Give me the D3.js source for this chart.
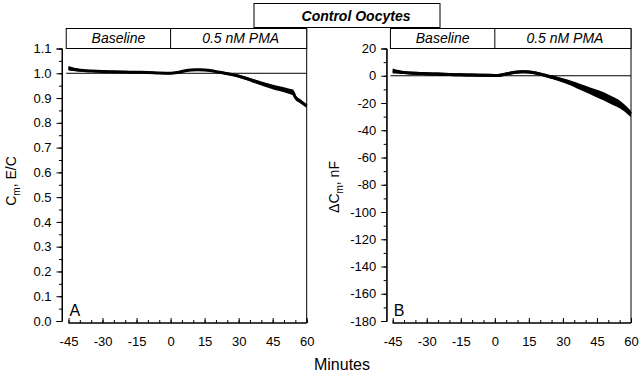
<!DOCTYPE html>
<html><head><meta charset="utf-8">
<script src="https://cdn.jsdelivr.net/npm/d3@7"></script>
<style>
html,body{margin:0;padding:0;background:#fff;}
svg{display:block;font-family:"Liberation Sans",Arial,sans-serif;}
</style></head>
<body><svg id="chart" width="640" height="376"></svg>
<script>
// ---- data ----
const time   = [-45,-43,-40,-35,-30,-25,-20,-15,-10,-5,0,3,6,9,12,15,18,21,24,28,32,36,40,44,48,52,54,55,57,60];
const cmMean = [1.020,1.016,1.012,1.009,1.007,1.006,1.005,1.004,1.003,1.001,1.000,1.003,1.009,1.013,1.014,1.013,1.010,1.005,1.000,0.993,0.983,0.971,0.959,0.948,0.938,0.928,0.922,0.903,0.888,0.868];
const cmErr  = [0.009,0.007,0.005,0.004,0.004,0.004,0.004,0.004,0.004,0.004,0.004,0.004,0.004,0.004,0.004,0.004,0.004,0.004,0.005,0.005,0.006,0.007,0.008,0.009,0.010,0.011,0.012,0.010,0.008,0.007];
const time2   = [-45,-43,-40,-35,-30,-25,-20,-15,-10,-5,0,3,6,9,12,15,18,21,24,28,32,36,40,44,48,52,55,57,59,60];
const dcmMean = [3.5,3.0,2.3,1.8,1.5,1.2,0.9,0.7,0.5,0.3,0.2,0.6,1.6,2.6,3.0,2.8,2.0,0.8,-0.6,-2.4,-4.5,-7.0,-9.8,-12.5,-15.2,-18.5,-21.0,-23.5,-26.5,-28.0];
const dcmErr  = [1.8,1.4,1.1,1.1,1.1,1.1,1.1,1.1,1.1,1.1,1.1,1.1,1.1,1.1,1.1,1.1,1.1,1.2,1.3,1.5,1.8,2.1,2.4,2.7,3.0,3.0,2.8,2.6,2.4,2.2];
const xTicks   = [-45,-30,-15,0,15,30,45,60];
const xMinor   = d3.range(-45,61,5);
const cmTicks  = [0,0.1,0.2,0.3,0.4,0.5,0.6,0.7,0.8,0.9,1.0,1.1];
const cmMinor  = d3.range(0,1.101,0.05);
const dcmTicks = [-180,-160,-140,-120,-100,-80,-60,-40,-20,0,20];
const dcmMinor = d3.range(-180,21,10);
const periods  = ["Baseline","0.5 nM PMA"];
const title    = "Control Oocytes";

const loc = d3.formatLocale({decimal:".",thousands:",",grouping:[3],currency:["",""],minus:"-"});
const svg = d3.select("#chart");

function styleText(sel){
  sel.attr("font-size",13).attr("fill","#000").attr("font-family","Liberation Sans, Arial");
}

function panel(o){
  const x = d3.scaleLinear().domain([-45,60]).range([o.x0,o.x1]);
  const y = d3.scaleLinear().domain(o.ydom).range([321,48.5]);
  const g = svg.append("g");
  // y axis
  const ya = g.append("g").attr("transform",`translate(${o.yAxisX},0)`)
    .call(d3.axisLeft(y).tickValues(o.yMinor).tickSize(3).tickFormat(""));
  ya.append("g").call(d3.axisLeft(y).tickValues(o.yTicks).tickSize(5.5).tickPadding(5).tickFormat(o.fmt));
  ya.selectAll("path").attr("stroke","#000");
  ya.select(".domain").attr("d",`M0,${y(o.ydom[0])}V${y(o.ydom[1])}`);
  ya.selectAll("text").call(styleText);
  // x axis
  const xa = g.append("g").attr("transform","translate(0,323)")
    .call(d3.axisTop(x).tickValues(xMinor).tickSize(3).tickFormat(""));
  xa.append("g").call(d3.axisTop(x).tickValues(xTicks).tickSize(5).tickFormat(""));
  xa.selectAll(".domain").attr("d",`M${x(-45)},0H${x(60)}`);
  xa.append("g").call(d3.axisBottom(x).tickValues(xTicks).tickSize(0).tickPadding(14).tickFormat(loc.format("d")))
    .call(s=>s.select(".domain").remove())
    .selectAll("text").call(styleText);
  // right border
  g.append("line").attr("x1",x(60)).attr("x2",x(60)).attr("y1",28.5).attr("y2",323).attr("stroke","#000");
  // period box
  const bx0 = x(-46), bx1 = x(60), mid = x(0);
  g.append("rect").attr("x",bx0).attr("y",28.5).attr("width",bx1-bx0).attr("height",20)
    .attr("fill","#fff").attr("stroke","#000");
  g.append("line").attr("x1",mid).attr("x2",mid).attr("y1",28.5).attr("y2",48.5).attr("stroke","#000");
  g.selectAll("text.period").data(periods).join("text").attr("class","period")
    .attr("x",(d,i)=> i===0 ? (bx0+mid)/2 : (mid+bx1)/2 + 2)
    .attr("y",43).attr("text-anchor","middle").attr("font-size",14).attr("font-style","italic").text(d=>d);
  // reference line
  g.append("line").attr("x1",bx0).attr("x2",bx1).attr("y1",y(o.ref)).attr("y2",y(o.ref)).attr("stroke","#000").attr("stroke-width",1);
  // data
  const pts = o.t.map((t,i)=>({t, m:o.mean[i], e:o.err[i]}));
  g.append("path").datum(pts).attr("fill","#000")
    .attr("d",d3.area().x(d=>x(d.t)).y0(d=>y(d.m-d.e)).y1(d=>y(d.m+d.e)).curve(d3.curveMonotoneX));
  g.append("path").datum(pts).attr("fill","none").attr("stroke","#000").attr("stroke-width",3)
    .attr("d",d3.line().x(d=>x(d.t)).y(d=>y(d.m)).curve(d3.curveMonotoneX));
  // panel letter
  g.append("text").attr("x",x(-45)+1).attr("y",316).attr("font-size",16).text(o.letter);
  return g;
}

panel({x0:68.5,x1:306.7,yAxisX:62,ydom:[0,1.1],yTicks:cmTicks,yMinor:cmMinor,fmt:loc.format(".1f"),
  ref:1.0,t:time,mean:cmMean,err:cmErr,letter:"A"});
panel({x0:392.7,x1:631,yAxisX:386.7,ydom:[-180,20],yTicks:dcmTicks,yMinor:dcmMinor,fmt:loc.format("d"),
  ref:0,t:time2,mean:dcmMean,err:dcmErr,letter:"B"});

// title box
svg.append("rect").attr("x",254).attr("y",3.5).attr("width",186).attr("height",24).attr("fill","#fff").attr("stroke","#000");
svg.append("text").attr("x",356).attr("y",20.5).attr("text-anchor","middle").attr("font-size",14)
  .attr("font-weight","bold").attr("font-style","italic").text(title);

// axis labels
const yl1 = svg.append("text").attr("transform","translate(16,181) rotate(-90)").attr("text-anchor","middle").attr("font-size",14);
yl1.append("tspan").text("C");
yl1.append("tspan").attr("font-size",10).attr("dy",4).text("m");
yl1.append("tspan").attr("dy",-4).text(", E/C");
const yl2 = svg.append("text").attr("transform","translate(339,187) rotate(-90)").attr("text-anchor","middle").attr("font-size",14);
yl2.append("tspan").text("\u0394C");
yl2.append("tspan").attr("font-size",10).attr("dy",4).text("m");
yl2.append("tspan").attr("dy",-4).text(", nF");
svg.append("text").attr("x",342).attr("y",370).attr("text-anchor","middle").attr("font-size",16).text("Minutes");
</script>
</body></html>
